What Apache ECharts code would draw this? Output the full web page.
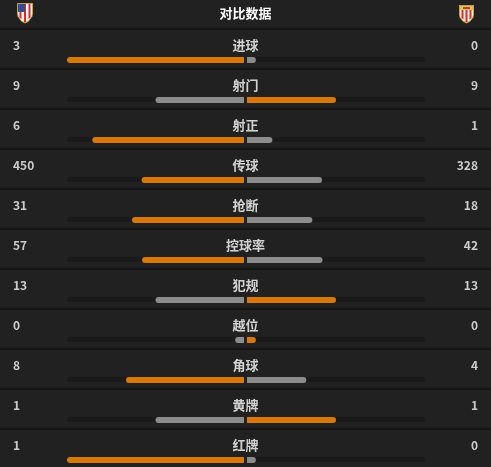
<!DOCTYPE html>
<html>
<head>
<meta charset="utf-8">
<script src="https://cdn.jsdelivr.net/npm/echarts@6/dist/echarts.min.js"></script>
<style>
html,body{margin:0;padding:0;background:#212121;}
#chart{width:491px;height:467px;}
</style>
</head>
<body>
<div id="chart"></div>
<script>
var categories = ['进球','射门','射正','传球','抢断','控球率','犯规','越位','角球','黄牌','红牌'];
var homeValues = [3, 9, 6, 450, 31, 57, 13, 0, 8, 1, 1];
var awayValues = [0, 9, 1, 328, 18, 42, 13, 0, 4, 1, 0];
var titleText = '对比数据';

var ORANGE = '#d9790b', GRAY = '#8c8c8c', TRACK = '#1a1a1a';
var FONT = '"Noto Sans CJK SC", "Noto Sans", sans-serif';
var MIN_SHARE = 0.05; // minimum visible stub for zero values

function share(a, b) { var s = a + b; return Math.max(s ? a / s : 0, MIN_SHARE); }
// left side: bars grow leftwards from the centre, drawn as (1 - share) invisible + share visible
var homePad = categories.map(function (c, i) { return 1 - share(homeValues[i], awayValues[i]); });
var homeData = categories.map(function (c, i) {
  var h = homeValues[i], a = awayValues[i];
  return { value: share(h, a), itemStyle: { color: h > a ? ORANGE : GRAY } };
});
var awayData = categories.map(function (c, i) {
  var h = homeValues[i], a = awayValues[i];
  return { value: share(a, h), itemStyle: { color: a >= h ? ORANGE : GRAY } };
});
var trackData = categories.map(function () { return 1; });

function shield(x0, x1, yTop, ySide, yBot) {
  var cx = (x0 + x1) / 2;
  return [[x0, yTop], [x1, yTop], [x1, ySide], [x1 - 0.6, ySide + 2.5], [cx + 3.5, yBot - 1.8], [cx, yBot],
          [cx - 3.5, yBot - 1.8], [x0 + 0.6, ySide + 2.5], [x0, ySide]];
}
function poly(points, fill) { return { type: 'polygon', shape: { points: points }, style: { fill: fill }, silent: true }; }

var chart = echarts.init(document.getElementById('chart'), null, { renderer: 'canvas' });
var hiddenVal = function (idx, min, max) {
  return { type: 'value', gridIndex: idx, min: min, max: max, show: false };
};
var hiddenCat = function (idx) {
  return { type: 'category', gridIndex: idx, data: categories, inverse: true, boundaryGap: false, show: false };
};
chart.setOption({
  backgroundColor: '#212121',
  animation: false,
  title: {
    text: titleText, left: 'center', top: 2,
    textStyle: { color: '#ffffff', fontSize: 13, fontWeight: 'bold', fontFamily: FONT }
  },
  grid: [
    { left: 67, width: 177, top: 60, height: 400 },
    { left: 247, width: 178, top: 60, height: 400 },
    { left: 13, right: 13, top: 45, height: 400 },
    { left: 0, right: 0, top: 29, height: 400 }
  ],
  xAxis: [
    hiddenVal(0, 0, 1),
    hiddenVal(1, 0, 1),
    hiddenVal(2, -1, 1),
    hiddenVal(3, -1, 1)
  ],
  yAxis: [
    hiddenCat(0),
    hiddenCat(1),
    {
      type: 'category', gridIndex: 2, data: categories, inverse: true, boundaryGap: false, position: 'left',
      axisLine: { show: false }, axisTick: { show: false },
      axisLabel: { inside: true, margin: 0, color: '#cccccc', fontSize: 12, fontWeight: 'bold', fontFamily: FONT,
        formatter: function (v, i) { return String(homeValues[i]); } }
    },
    {
      type: 'category', gridIndex: 2, data: categories, inverse: true, boundaryGap: false, position: 'right',
      axisLine: { show: false }, axisTick: { show: false },
      axisLabel: { inside: true, margin: 0, color: '#cccccc', fontSize: 12, fontWeight: 'bold', fontFamily: FONT,
        formatter: function (v, i) { return String(awayValues[i]); } }
    },
    {
      type: 'category', gridIndex: 3, data: categories, inverse: true, boundaryGap: false,
      axisLine: { show: false }, axisTick: { show: false }, axisLabel: { show: false },
      splitLine: { show: true, lineStyle: { color: '#141414', width: 2 } }
    }
  ],
  series: [
    { type: 'bar', xAxisIndex: 0, yAxisIndex: 0, data: trackData, barWidth: 5, silent: true,
      itemStyle: { color: TRACK, borderRadius: [3, 0, 0, 3] }, z: 1 },
    { type: 'bar', xAxisIndex: 0, yAxisIndex: 0, data: homePad, stack: 'home', barWidth: 6, barGap: '-100%', silent: true,
      itemStyle: { color: 'rgba(0,0,0,0)' }, z: 2 },
    { type: 'bar', xAxisIndex: 0, yAxisIndex: 0, data: homeData, stack: 'home', barWidth: 6,
      itemStyle: { borderRadius: [3, 0, 0, 3] }, z: 2 },
    { type: 'bar', xAxisIndex: 1, yAxisIndex: 1, data: trackData, barWidth: 5, silent: true,
      itemStyle: { color: TRACK, borderRadius: [0, 3, 3, 0] }, z: 1 },
    { type: 'bar', xAxisIndex: 1, yAxisIndex: 1, data: awayData, barWidth: 6, barGap: '-100%',
      itemStyle: { borderRadius: [0, 3, 3, 0] }, z: 2 },
    { type: 'scatter', xAxisIndex: 2, yAxisIndex: 2, symbolSize: 0,
      data: categories.map(function (c) { return [0, c]; }),
      label: { show: true, position: 'inside', color: '#ffffff', fontSize: 13, fontWeight: 'bold', fontFamily: FONT,
        formatter: function (p) { return categories[p.dataIndex]; } } },
    { type: 'scatter', xAxisIndex: 3, yAxisIndex: 4, symbolSize: 0, data: [] }
  ],
  graphic: [
    poly(shield(17, 33, 3, 14, 23.5), '#c9a03f'),
    poly(shield(18, 32, 4, 14, 22.3), '#f2f2f2'),
    poly([[19.5, 4], [21.5, 4], [21.5, 19], [19.5, 17.5]], '#d52b2b'),
    poly([[24, 4], [26, 4], [26, 22.2], [24, 22.2]], '#d52b2b'),
    poly([[28.5, 4], [30.5, 4], [30.5, 17.5], [28.5, 19]], '#d52b2b'),
    { type: 'rect', shape: { x: 18, y: 4, width: 7, height: 8 }, style: { fill: '#2c4f92' }, silent: true },
    poly(shield(459, 474, 5, 15, 23.5), '#c9a03f'),
    poly(shield(460, 473, 10, 15, 22.3), '#f4f0e6'),
    poly([[461.5, 10], [463.5, 10], [463.5, 19.5], [461.5, 18]], '#d33030'),
    poly([[465.5, 10], [467.5, 10], [467.5, 22], [465.5, 22]], '#d33030'),
    poly([[469.5, 10], [471.5, 10], [471.5, 18], [469.5, 19.5]], '#d33030'),
    { type: 'rect', shape: { x: 460, y: 6, width: 13, height: 4 }, style: { fill: '#e4c25a' }, silent: true },
    { type: 'rect', shape: { x: 463, y: 7, width: 7, height: 2 }, style: { fill: '#c53a2a' }, silent: true }
  ]
});
</script>
</body>
</html>
